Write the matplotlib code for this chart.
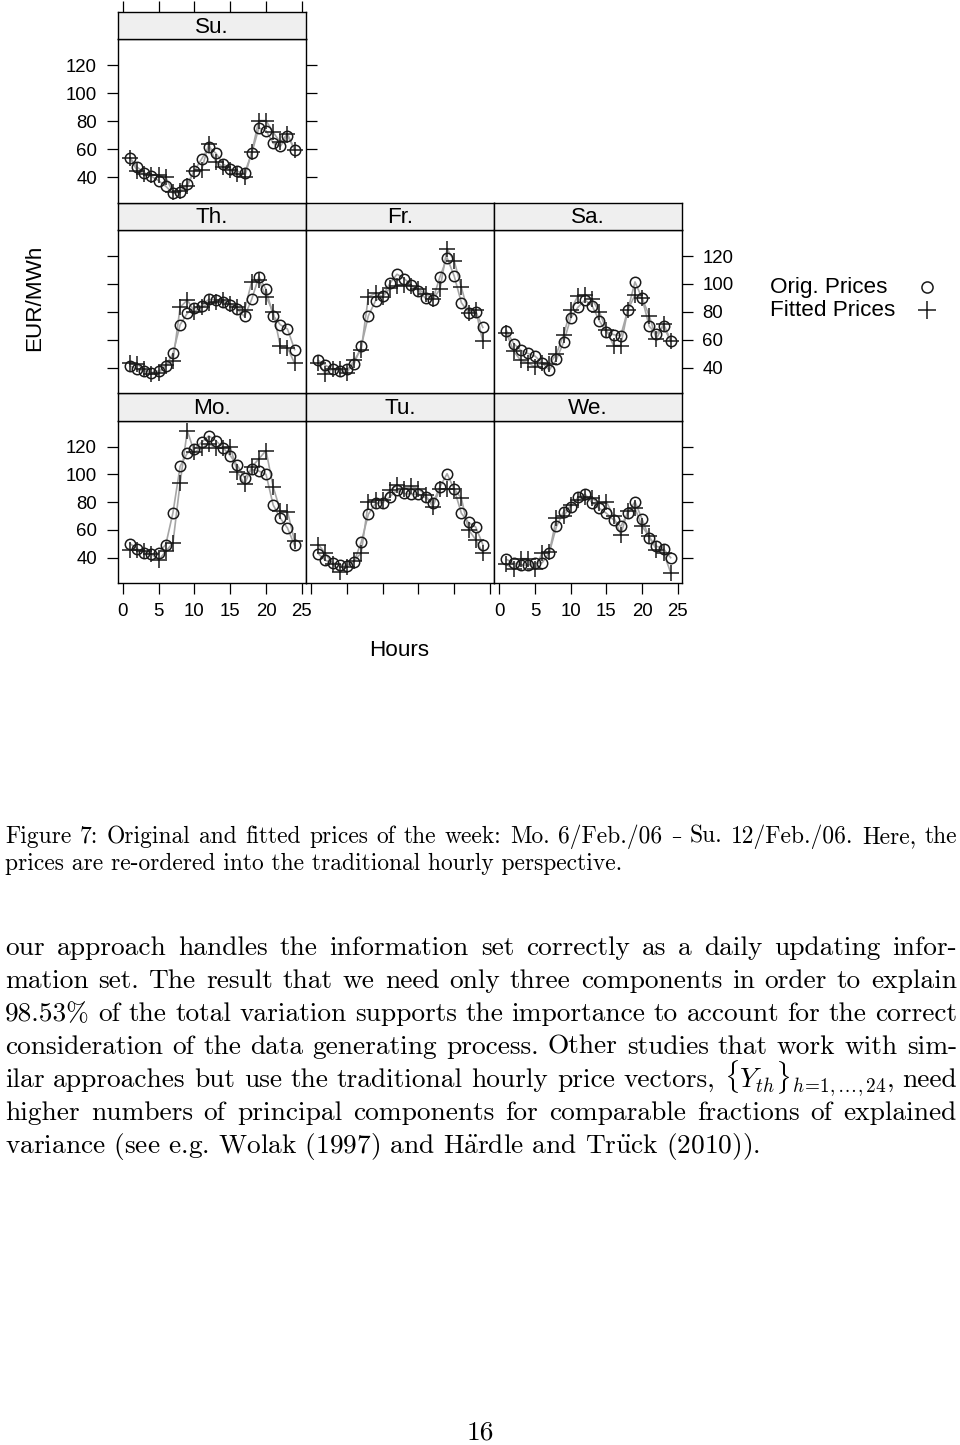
import matplotlib
matplotlib.use('Agg')
import matplotlib.pyplot as plt
from matplotlib.lines import Line2D

plt.rcParams['font.family'] = ['Liberation Sans', 'DejaVu Sans']
plt.rcParams['mathtext.fontset'] = 'cm'

W, H = 960, 1445

hours = list(range(1, 25))
x_ticks = [0, 5, 10, 15, 20, 25]
y_ticks = [40, 60, 80, 100, 120]

# hourly prices per day (EUR/MWh)
mo_orig = [50.2, 46.4, 43.6, 42.4, 43.6, 49.5, 72.5, 105.8, 115.3, 118.3, 123.1, 127.8,
           124.3, 119.1, 113.6, 106.5, 97.7, 103.6, 102.4, 100.1, 78.0, 68.5, 61.4, 48.8]
mo_fit = [45.5, 45.9, 44.7, 42.8, 38.1, 44.7, 50.7, 93.9, 131.4, 116.0, 119.1, 121.9,
          119.1, 119.1, 120.0, 101.7, 92.9, 105.3, 111.2, 117.2, 91.0, 73.9, 73.2, 51.9]
tu_orig = [42.9, 38.1, 36.4, 34.8, 34.1, 37.2, 51.2, 71.3, 79.2, 79.6, 83.9, 88.7,
           86.3, 85.6, 85.8, 83.4, 79.2, 91.0, 100.5, 89.2, 72.0, 65.4, 62.1, 49.5]
tu_fit = [49.5, 43.1, 35.3, 29.8, 33.3, 37.6, 43.6, 80.4, 81.5, 81.5, 88.7, 92.2,
          89.6, 91.3, 89.6, 85.1, 76.8, 89.6, 89.6, 89.6, 82.7, 60.2, 53.0, 43.6]
we_orig = [38.8, 36.0, 34.8, 34.6, 36.0, 36.4, 43.6, 62.5, 73.2, 76.8, 83.4, 85.8,
           79.6, 75.6, 72.0, 67.3, 62.5, 72.0, 80.4, 67.7, 54.2, 48.3, 46.4, 40.0]
we_fit = [35.2, 31.7, 39.3, 39.3, 31.7, 43.6, 44.0, 68.5, 69.7, 77.9, 81.5, 83.9,
          82.7, 79.2, 80.4, 69.7, 56.6, 73.9, 75.6, 62.5, 55.4, 45.9, 43.6, 29.3]
th_orig = [41.2, 38.8, 37.6, 36.4, 37.6, 41.2, 50.2, 70.8, 79.0, 82.6, 84.3, 89.0,
           88.5, 87.3, 85.0, 81.9, 76.7, 89.0, 105.1, 96.1, 77.2, 70.8, 67.7, 53.0]
th_fit = [43.5, 42.4, 38.8, 35.3, 36.0, 41.7, 44.7, 83.3, 88.5, 80.2, 83.3, 86.2,
          87.3, 88.5, 85.7, 83.3, 81.4, 101.5, 102.7, 90.9, 80.2, 55.4, 54.2, 43.1]
fr_orig = [45.2, 41.7, 38.8, 37.6, 38.8, 42.8, 55.4, 77.2, 88.0, 91.4, 100.4, 107.0,
           103.9, 99.2, 95.1, 89.7, 88.5, 105.1, 118.8, 105.6, 86.6, 79.5, 80.2, 68.9]
fr_fit = [43.5, 35.3, 39.3, 39.3, 36.4, 45.4, 53.0, 90.9, 93.3, 90.9, 96.8, 98.5,
          99.2, 98.5, 96.1, 92.8, 89.0, 96.1, 125.2, 116.4, 97.5, 79.0, 81.4, 58.9]
sa_orig = [66.5, 57.3, 52.5, 50.2, 48.3, 43.5, 38.3, 45.9, 58.2, 75.5, 83.3, 88.5,
           84.3, 73.8, 65.3, 63.7, 62.9, 81.4, 101.5, 89.7, 69.6, 64.4, 69.6, 58.9]
sa_fit = [64.9, 51.8, 45.2, 43.5, 40.5, 43.5, 42.4, 49.9, 63.7, 81.4, 91.4, 92.1,
          89.0, 80.2, 67.2, 55.9, 55.9, 81.4, 92.1, 89.7, 77.2, 60.6, 71.5, 59.4]
su_orig = [53.9, 47.2, 43.3, 40.7, 37.6, 33.6, 28.5, 29.3, 35.2, 44.8, 53.1, 61.5,
           57.2, 49.6, 46.0, 44.3, 42.9, 57.2, 75.3, 73.4, 64.4, 62.2, 69.9, 59.8]
su_fit = [54.0, 44.8, 42.4, 41.9, 41.9, 40.0, 29.3, 30.4, 34.0, 44.8, 45.3, 63.9,
          50.7, 47.6, 45.3, 42.4, 40.0, 57.9, 80.6, 80.6, 72.2, 65.1, 71.0, 59.8]

caption = [
    "Figure 7: Original and fitted prices of the week: Mo. 6/Feb./06 \u2013 Su. 12/Feb./06. Here, the",
    "prices are re-ordered into the traditional hourly perspective.",
]
body = [
    "our approach handles the information set correctly as a daily updating infor-",
    "mation set. The result that we need only three components in order to explain",
    "98.53% of the total variation supports the importance to account for the correct",
    "consideration of the data generating process. Other studies that work with sim-",
    r"ilar approaches but use the traditional hourly price vectors, $\{Y_{th}\}_{h\!=\!1,\ldots,24}$, need",
    "higher numbers of principal components for comparable fractions of explained",
    r"variance (see e.g. Wolak (1997) and H$\mathrm{\ddot{a}}$rdle and Tr$\mathrm{\ddot{u}}$ck (2010)).",
]


def box(x0, y0, x1, y1):
    return [x0 / W, 1 - y1 / H, (x1 - x0) / W, (y1 - y0) / H]


cols = [(117.5, 305.8), (305.8, 494.0), (494.0, 681.8)]
rows = {'top': (12.3, 39.3, 202.5), 'mid': (202.5, 230.0, 392.8), 'bot': (393.0, 420.7, 582.7)}

# name, orig, fit, col, row, left, right, bottom, top
panels = [
    ('Mo.', mo_orig, mo_fit, 0, 'bot', 'lab', None, 'lab', None),
    ('Tu.', tu_orig, tu_fit, 1, 'bot', None, None, 'tick', None),
    ('We.', we_orig, we_fit, 2, 'bot', None, 'tick', 'lab', None),
    ('Th.', th_orig, th_fit, 0, 'mid', 'tick', None, None, None),
    ('Fr.', fr_orig, fr_fit, 1, 'mid', None, None, None, None),
    ('Sa.', sa_orig, sa_fit, 2, 'mid', None, 'lab', None, None),
    ('Su.', su_orig, su_fit, 0, 'top', 'lab', 'tick', None, 'tick'),
]

fig = plt.figure(figsize=(W / 100, H / 100), dpi=100)
TICK = dict(direction='out', length=7.7, width=0.9, labelsize=13.4, pad=7)

for name, orig, fit, c, r, left, right, bottom, top in panels:
    x0, x1 = cols[c]
    s0, p0, p1 = rows[r]
    ax = fig.add_axes(box(x0, p0, x1, p1))
    ax.plot(hours, orig, color='#a6a6a6', lw=1.2, zorder=1)
    ax.plot(hours, fit, color='#a6a6a6', lw=1.2, zorder=1)
    ax.plot(hours, orig, 'o', mfc='none', mec='#1a1a1a', ms=7.5, mew=1.1, zorder=3)
    ax.plot(hours, fit, '+', color='#1a1a1a', ms=12, mew=1.1, zorder=3)
    ax.set_xlim(-0.75, 25.56)
    ax.set_ylim(22, 138.7)
    ax.set_xticks(x_ticks)
    ax.set_yticks(y_ticks)
    ax.tick_params(**TICK)
    ax.tick_params(left=left is not None, labelleft=left == 'lab',
                   right=right is not None, labelright=right == 'lab',
                   bottom=bottom is not None, labelbottom=bottom == 'lab',
                   top=False, labeltop=False)
    for sp in ax.spines.values():
        sp.set_linewidth(1.0)

    sax = fig.add_axes(box(x0, s0, x1, p0), sharex=ax)
    sax.set_facecolor('#efefef')
    sax.set_yticks([])
    sax.tick_params(**TICK)
    sax.tick_params(bottom=False, labelbottom=False, top=top is not None, labeltop=False)
    for sp in sax.spines.values():
        sp.set_linewidth(1.0)
    sax.text(0.5, 0.45, name, transform=sax.transAxes, ha='center', va='center', fontsize=16.2)

# axis titles and key
fig.text(35 / W, 1 - 298 / H, 'EUR/MWh', rotation=90, ha='center', va='center', fontsize=16.2)
fig.text(399.6 / W, 1 - 650 / H, 'Hours', ha='center', va='center', fontsize=16.2)
fig.text(770 / W, 1 - 288 / H, 'Orig. Prices', ha='left', va='center', fontsize=16.2)
fig.text(770 / W, 1 - 310 / H, 'Fitted Prices', ha='left', va='center', fontsize=16.2)
fig.add_artist(Line2D([927 / W], [1 - 287 / H], marker='o', mfc='none', mec='#1a1a1a',
                      ms=8, mew=1.1, transform=fig.transFigure))
fig.add_artist(Line2D([927 / W], [1 - 310 / H], marker='+', color='#1a1a1a',
                      ms=13, mew=1.1, transform=fig.transFigure))

renderer = fig.canvas.get_renderer()


def word_family(w):
    if '$' not in w and any(ord(ch) > 127 for ch in w):
        return 'DejaVu Serif'
    return 'cmr10'


def put_line(line, y_base, size, justify, x0=5, x1=957):
    if not justify:
        fig.text(x0 / W, 1 - y_base / H, line, fontsize=size, family='cmr10', va='baseline')
        return
    words = line.split(' ')
    # keep mathtext words together
    merged = []
    for w in words:
        if merged and merged[-1].count('$') % 2 == 1:
            merged[-1] += ' ' + w
        else:
            merged.append(w)
    texts = []
    for w in merged:
        sz = size * 0.85 if word_family(w) == 'DejaVu Serif' else size
        texts.append(fig.text(0, 1 - y_base / H, w, fontsize=sz, family=word_family(w),
                              va='baseline'))
    widths = [t.get_window_extent(renderer).width for t in texts]
    gap = (x1 - x0 - sum(widths)) / (len(texts) - 1)
    x = x0
    for t, wd in zip(texts, widths):
        t.set_x(x / W)
        x += wd + gap


for i, line in enumerate(caption):
    put_line(line, 843 + 27 * i, 16.9, i < len(caption) - 1)
for i, line in enumerate(body):
    put_line(line, 955 + 33 * i, 19.7, i < len(body) - 1)

fig.text(480 / W, 1 - 1440 / H, '16', ha='center', va='baseline', fontsize=19.7, family='cmr10')

fig.savefig('out.png', dpi=100)
